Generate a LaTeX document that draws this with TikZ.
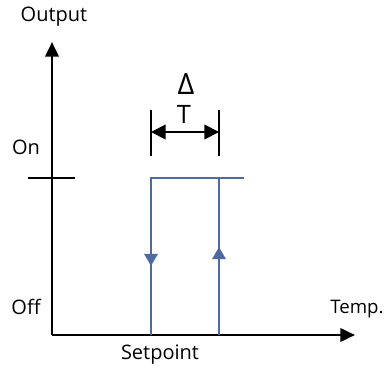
\documentclass[tikz,border=0pt]{standalone}
\usepackage{fontspec}
\setmainfont{Open Sans}
\usepackage{xcolor}
\usetikzlibrary{arrows.meta,decorations.markings}
\definecolor{hystblue}{RGB}{78,106,160}

\begin{document}
\begin{tikzpicture}[
    x=0.75pt, y=-0.75pt,
    axis/.style={line width=2pt, -{Triangle[length=11pt,width=10pt]}},
    hyst/.style={line width=1.6pt, draw=hystblue},
    midarrow/.style={postaction={decorate}, decoration={markings,
        mark=at position #1 with {\arrow[hystblue]{Triangle[length=9pt,width=10pt]}}}},
    lbl/.style={font=\fontsize{15}{17}\selectfont, inner sep=0pt}
]
    \useasboundingbox (0,0) rectangle (386,368);

    % axes
    \coordinate (O) at (52,335);
    \coordinate (Ytop) at (52,42);
    \coordinate (Xend) at (355,335);
    \draw[axis] (O) -- (Ytop);
    \draw[axis] (O) -- (Xend);
    \coordinate (tickL) at (28,178);
    \coordinate (tickR) at (75,178);
    \draw[line width=1.2pt] (tickL) -- (tickR);

    % hysteresis loop
    \coordinate (Lbot) at (151,335);
    \coordinate (Ltop) at (151,178);
    \coordinate (Rbot) at (219,335);
    \coordinate (Rtop) at (219,178);
    \coordinate (Tend) at (244,178);
    \draw[hyst] (Lbot) -- (Ltop) -- (Tend);
    \draw[hyst, midarrow=0.56] (Ltop) -- (Lbot);
    \draw[hyst, midarrow=0.56] (Rbot) -- (Rtop);

    % delta T
    \coordinate (dLa) at (151,110);
    \coordinate (dLb) at (151,156);
    \coordinate (dRa) at (219,110);
    \coordinate (dRb) at (219,156);
    \coordinate (dL) at (151,132);
    \coordinate (dR) at (219,132);
    \draw[line width=1.2pt] (dLa) -- (dLb);
    \draw[line width=1.2pt] (dRa) -- (dRb);
    \draw[line width=1.4pt, {Triangle[length=11pt,width=11pt]}-{Triangle[length=11pt,width=11pt]}] (dL) -- (dR);

    % labels
    \node[lbl, font=\fontsize{22}{24}\selectfont] (delta) at (186,84) {Δ};
    \node[lbl, font=\fontsize{19}{21}\selectfont] (tee) at (184,114) {T};
    \node[lbl] (output) at (54,17) {Output};
    \node[lbl] (on) at (26,147) {On};
    \node[lbl] (off) at (26,307) {Off};
    \node[lbl, font=\fontsize{14}{16}\selectfont] (temp) at (357,309) {Temp.};
    \node[lbl] (setpt) at (160,355) {Setpoint};
\end{tikzpicture}
\end{document}
